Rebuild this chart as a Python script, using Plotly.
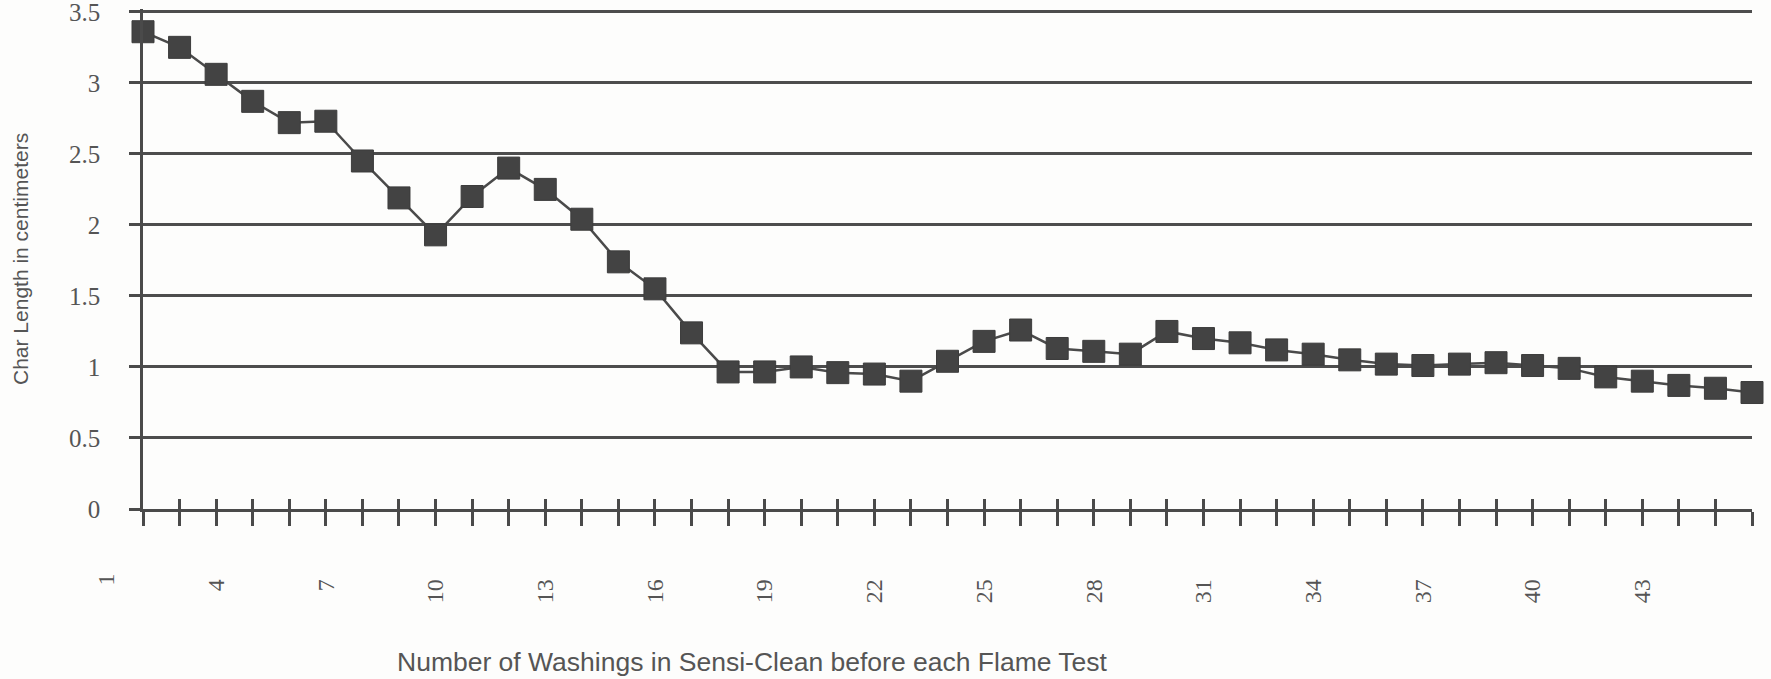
import plotly.graph_objects as go

# Data
washings = list(range(2, 47))
char_length = [3.36, 3.25, 3.06, 2.87, 2.72, 2.73, 2.45, 2.19, 1.93, 2.20,
               2.40, 2.25, 2.04, 1.74, 1.55, 1.24, 0.965, 0.965, 1.00, 0.96,
               0.95, 0.90, 1.04, 1.18, 1.26, 1.13, 1.11, 1.09, 1.25, 1.20,
               1.17, 1.12, 1.09, 1.05, 1.02, 1.01, 1.02, 1.03, 1.01, 0.99,
               0.93, 0.90, 0.87, 0.85, 0.82]
x_tick_vals = list(range(4, 44, 3))
x_tick_text = [str(v) for v in x_tick_vals]
first_label = 1
y_tick_vals = [0, 0.5, 1, 1.5, 2, 2.5, 3, 3.5]

INK = "#4a4a4a"
BG = "#fdfdfc"
X_MIN, X_MAX = 2, 46

fig = go.Figure()
fig.add_trace(go.Scatter(
    x=washings, y=char_length, mode="lines+markers",
    line=dict(color="#4a4a4a", width=2.5),
    marker=dict(symbol="square", size=22, color="#434343",
                line=dict(color="#3c3c3c", width=1)),
    cliponaxis=False, showlegend=False,
))

fig.update_layout(
    width=1771, height=679,
    margin=dict(l=143, r=19, t=9, b=170),
    paper_bgcolor=BG, plot_bgcolor=BG,
    xaxis=dict(
        range=[X_MIN, X_MAX], tickvals=x_tick_vals, ticktext=x_tick_text,
        tickangle=-90, ticks="outside", ticklen=14, tickwidth=2.5, tickcolor=INK,
        minor=dict(tickmode="linear", tick0=2, dtick=1, ticks="outside",
                   ticklen=14, tickwidth=2.5, tickcolor=INK, showgrid=False),
        showline=True, linecolor=INK, linewidth=2.5, showgrid=False,
        zeroline=False, ticklabelstandoff=44, automargin=False,
        ticklabeloverflow="allow",
        tickfont=dict(family="Liberation Serif", size=24, color="#555555"),
    ),
    xaxis2=dict(
        overlaying="x", anchor="y", side="bottom", range=[X_MIN, X_MAX],
        tickmode="linear", tick0=2, dtick=1, ticks="inside", ticklen=10,
        tickwidth=2.5, tickcolor=INK, showticklabels=False, showgrid=False,
        zeroline=False, showline=False, automargin=False,
    ),
    yaxis=dict(
        range=[0, 3.52], tickvals=y_tick_vals, ticks="outside", ticklen=11,
        tickwidth=2.5, tickcolor=INK, showline=True, linecolor=INK, linewidth=2.5,
        showgrid=True, gridcolor="#4d4d4d", gridwidth=2.5, zeroline=False,
        ticklabelstandoff=24, automargin=False, ticklabeloverflow="allow",
        tickfont=dict(family="Liberation Serif", size=25, color="#555555"),
    ),
)

# invisible trace to activate xaxis2
fig.add_trace(go.Scatter(x=[washings[0]], y=[char_length[0]], xaxis="x2",
                         mode="markers", marker=dict(opacity=0),
                         showlegend=False, hoverinfo="skip"))

# label for washing 1 (one step left of the y axis)
fig.add_annotation(x=(first_label - X_MIN) / (X_MAX - X_MIN), xref="paper",
                   y=0, yref="paper", xanchor="center", yanchor="top",
                   text=str(first_label), showarrow=False, textangle=-90,
                   yshift=-62,
                   font=dict(family="Liberation Serif", size=24, color="#555555"))

fig.add_annotation(x=(752 - 143) / 1609, xref="paper", y=-0.305, yref="paper",
                   text="Number of Washings in Sensi-Clean before each Flame Test",
                   showarrow=False, xanchor="center", yanchor="middle",
                   font=dict(family="Liberation Sans", size=26.5, color="#555555"))

fig.add_annotation(x=(20 - 143) / 1609, xref="paper", y=0.5, yref="paper",
                   text="Char Length in centimeters", textangle=-90,
                   showarrow=False, xanchor="center", yanchor="middle",
                   font=dict(family="Liberation Sans", size=21, color="#555555"))

fig.write_html("out.html", config={"displayModeBar": False},
               post_script="document.body.style.margin='0';"
                           "document.body.style.overflow='hidden';")
